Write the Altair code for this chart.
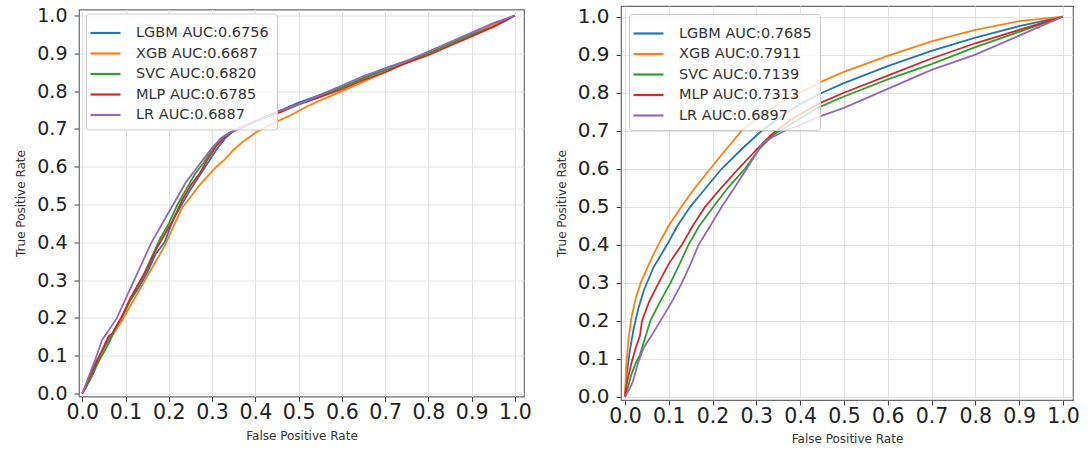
import altair as alt
import pandas as pd

MODELS = ["LGBM", "XGB", "SVC", "MLP", "LR"]
COLORS = ["#1f77b4", "#ff7f0e", "#2ca02c", "#d62728", "#9467bd"]
TICKS = [0.0, 0.1, 0.2, 0.3, 0.4, 0.5, 0.6, 0.7, 0.8, 0.9, 1.0]

# ---------------- left panel ----------------
LEFT_AUC = ["0.6756", "0.6687", "0.6820", "0.6785", "0.6887"]

left_lgbm_x = [0, 0.01, 0.02, 0.03, 0.05, 0.07, 0.09, 0.11, 0.13, 0.15, 0.17, 0.19, 0.21, 0.23, 0.25, 0.27, 0.29, 0.31, 0.33, 0.35, 0.38, 0.42, 0.46, 0.5, 0.55, 0.6, 0.65, 0.7, 0.75, 0.8, 0.85, 0.9, 0.95, 1.0]
left_lgbm_y = [0, 0.02, 0.05, 0.08, 0.12, 0.16, 0.2, 0.245, 0.28, 0.32, 0.37, 0.4, 0.46, 0.5, 0.54, 0.575, 0.61, 0.645, 0.675, 0.695, 0.71, 0.73, 0.75, 0.77, 0.79, 0.81, 0.835, 0.86, 0.88, 0.9, 0.925, 0.95, 0.975, 1.0]

left_xgb_x = [0, 0.01, 0.03, 0.05, 0.07, 0.09, 0.11, 0.13, 0.15, 0.17, 0.19, 0.21, 0.23, 0.25, 0.27, 0.29, 0.31, 0.33, 0.35, 0.37, 0.4, 0.44, 0.48, 0.52, 0.56, 0.6, 0.65, 0.7, 0.75, 0.8, 0.85, 0.9, 0.95, 1.0]
left_xgb_y = [0, 0.025, 0.07, 0.11, 0.155, 0.19, 0.23, 0.27, 0.31, 0.35, 0.39, 0.44, 0.49, 0.52, 0.55, 0.575, 0.6, 0.62, 0.645, 0.665, 0.69, 0.715, 0.735, 0.76, 0.78, 0.8, 0.825, 0.85, 0.875, 0.9, 0.925, 0.95, 0.975, 1.0]

left_svc_x = [0, 0.02, 0.04, 0.06, 0.08, 0.1, 0.12, 0.14, 0.16, 0.18, 0.2, 0.22, 0.24, 0.26, 0.28, 0.3, 0.32, 0.34, 0.37, 0.4, 0.45, 0.5, 0.55, 0.6, 0.65, 0.7, 0.75, 0.8, 0.85, 0.9, 0.95, 1.0]
left_svc_y = [0, 0.04, 0.09, 0.13, 0.18, 0.22, 0.27, 0.31, 0.36, 0.41, 0.45, 0.5, 0.54, 0.58, 0.61, 0.645, 0.675, 0.69, 0.705, 0.72, 0.745, 0.765, 0.785, 0.81, 0.835, 0.855, 0.875, 0.9, 0.925, 0.95, 0.97, 1.0]

left_mlp_x = [0, 0.02, 0.04, 0.06, 0.07, 0.09, 0.11, 0.13, 0.15, 0.17, 0.19, 0.21, 0.23, 0.25, 0.27, 0.29, 0.31, 0.33, 0.35, 0.38, 0.42, 0.46, 0.5, 0.55, 0.6, 0.65, 0.7, 0.75, 0.8, 0.85, 0.9, 0.95, 1.0]
left_mlp_y = [0, 0.05, 0.1, 0.15, 0.16, 0.2, 0.25, 0.29, 0.33, 0.38, 0.42, 0.46, 0.51, 0.55, 0.58, 0.62, 0.655, 0.68, 0.695, 0.71, 0.73, 0.745, 0.765, 0.785, 0.805, 0.83, 0.85, 0.875, 0.895, 0.92, 0.945, 0.97, 1.0]

left_lr_x = [0, 0.01, 0.03, 0.045, 0.06, 0.08, 0.1, 0.12, 0.14, 0.16, 0.18, 0.2, 0.22, 0.24, 0.26, 0.28, 0.3, 0.32, 0.34, 0.37, 0.4, 0.45, 0.5, 0.55, 0.6, 0.65, 0.7, 0.75, 0.8, 0.85, 0.9, 0.95, 1.0]
left_lr_y = [0, 0.03, 0.09, 0.14, 0.165, 0.2, 0.25, 0.3, 0.35, 0.4, 0.44, 0.48, 0.52, 0.56, 0.59, 0.62, 0.65, 0.675, 0.69, 0.705, 0.72, 0.745, 0.765, 0.79, 0.815, 0.84, 0.86, 0.88, 0.905, 0.93, 0.955, 0.98, 1.0]

# ---------------- right panel ----------------
RIGHT_AUC = ["0.7685", "0.7911", "0.7139", "0.7313", "0.6897"]

right_lgbm_x = [0, 0.004, 0.011, 0.02, 0.03, 0.043, 0.065, 0.096, 0.12, 0.149, 0.185, 0.221, 0.265, 0.312, 0.36, 0.4, 0.45, 0.5, 0.6, 0.7, 0.8, 0.9, 1.0]
right_lgbm_y = [0, 0.06, 0.12, 0.18, 0.23, 0.28, 0.34, 0.4, 0.45, 0.5, 0.55, 0.6, 0.65, 0.7, 0.74, 0.77, 0.8, 0.825, 0.87, 0.91, 0.945, 0.975, 1.0]

right_xgb_x = [0, 0.003, 0.008, 0.015, 0.025, 0.036, 0.055, 0.076, 0.1, 0.129, 0.16, 0.195, 0.23, 0.267, 0.31, 0.35, 0.4, 0.45, 0.5, 0.6, 0.7, 0.8, 0.9, 1.0]
right_xgb_y = [0, 0.08, 0.15, 0.21, 0.26, 0.3, 0.35, 0.4, 0.45, 0.5, 0.55, 0.6, 0.65, 0.7, 0.74, 0.77, 0.8, 0.83, 0.855, 0.897, 0.935, 0.965, 0.988, 1.0]

right_svc_x = [0, 0.008, 0.015, 0.025, 0.034, 0.058, 0.08, 0.104, 0.125, 0.145, 0.17, 0.202, 0.235, 0.274, 0.305, 0.34, 0.39, 0.44, 0.5, 0.6, 0.7, 0.8, 0.9, 1.0]
right_svc_y = [0, 0.03, 0.06, 0.09, 0.11, 0.2, 0.25, 0.3, 0.35, 0.4, 0.45, 0.5, 0.55, 0.6, 0.65, 0.69, 0.725, 0.76, 0.79, 0.835, 0.875, 0.92, 0.96, 1.0]

right_mlp_x = [0, 0.005, 0.015, 0.025, 0.034, 0.039, 0.055, 0.077, 0.1, 0.13, 0.155, 0.183, 0.22, 0.259, 0.3, 0.335, 0.38, 0.44, 0.5, 0.6, 0.7, 0.8, 0.9, 1.0]
right_mlp_y = [0, 0.04, 0.09, 0.13, 0.16, 0.2, 0.25, 0.3, 0.35, 0.4, 0.45, 0.5, 0.55, 0.6, 0.65, 0.69, 0.73, 0.77, 0.8, 0.845, 0.89, 0.93, 0.965, 1.0]

right_lr_x = [0, 0.01, 0.018, 0.03, 0.043, 0.06, 0.081, 0.107, 0.13, 0.15, 0.168, 0.195, 0.221, 0.25, 0.278, 0.3, 0.316, 0.34, 0.365, 0.4, 0.45, 0.5, 0.6, 0.7, 0.8, 0.9, 1.0]
right_lr_y = [0, 0.02, 0.04, 0.09, 0.13, 0.16, 0.2, 0.25, 0.3, 0.35, 0.4, 0.45, 0.5, 0.55, 0.6, 0.64, 0.67, 0.685, 0.7, 0.715, 0.74, 0.76, 0.81, 0.86, 0.9, 0.95, 1.0]

FONT = "DejaVu Sans"


def build_df(aucs, curves):
    rows = []
    labels = []
    for m, auc, (xs, ys) in zip(MODELS, aucs, curves):
        lab = f"{m} AUC:{auc}"
        labels.append(lab)
        for i, (x, y) in enumerate(zip(xs, ys)):
            rows.append({"label": lab, "fpr": x, "tpr": y, "idx": i})
    return pd.DataFrame(rows), labels


def panel(df, labels, xdom, ydom, w, h, lx, ly, ylabel_size):
    return alt.Chart(df).mark_line(strokeWidth=1.8, clip=True).encode(
        x=alt.X("fpr:Q",
                scale=alt.Scale(domain=xdom, nice=False, zero=False),
                axis=alt.Axis(values=TICKS, format=".1f", title="False Positive Rate",
                              labelFontSize=20.5, labelPadding=1, titlePadding=7,
                              labelFlush=False, labelOverlap=False)),
        y=alt.Y("tpr:Q",
                scale=alt.Scale(domain=ydom, nice=False, zero=False),
                axis=alt.Axis(values=TICKS, format=".1f", title="True Positive Rate",
                              labelFontSize=ylabel_size, labelPadding=7, titlePadding=9,
                              labelFlush=False, labelOverlap=False)),
        color=alt.Color("label:N",
                        scale=alt.Scale(domain=labels, range=COLORS),
                        sort=labels,
                        legend=alt.Legend(title=None, orient="none", legendX=lx, legendY=ly)),
        order=alt.Order("idx:Q"),
    ).properties(width=w, height=h)


ldf, llabels = build_df(LEFT_AUC, [
    (left_lgbm_x, left_lgbm_y), (left_xgb_x, left_xgb_y), (left_svc_x, left_svc_y),
    (left_mlp_x, left_mlp_y), (left_lr_x, left_lr_y)])
rdf, rlabels = build_df(RIGHT_AUC, [
    (right_lgbm_x, right_lgbm_y), (right_xgb_x, right_xgb_y), (right_svc_x, right_svc_y),
    (right_mlp_x, right_mlp_y), (right_lr_x, right_lr_y)])

left = panel(ldf, llabels, [-0.0077, 1.021], [-0.008, 1.016], 445, 387, 7, 4, 19)
right = panel(rdf, rlabels, [-0.009, 1.023], [-0.008, 1.028], 452, 394, 8, 8, 20)

chart = alt.hconcat(left, right, spacing=97, bounds="flush", center=True).resolve_scale(
    color="independent").resolve_legend(color="independent").properties(
    padding={"left": 14, "top": 5, "right": 5, "bottom": 5}
).configure(font=FONT).configure_view(
    stroke="#6b6b6b", strokeWidth=1.2
).configure_axis(
    domain=False, grid=True, gridColor="#e2e2e2", gridWidth=1,
    tickColor="#444", tickSize=5, tickWidth=1,
    labelColor="#222", labelFont=FONT,
    titleColor="#333", titleFont=FONT, titleFontSize=12, titleFontWeight="normal",
).configure_legend(
    symbolType="M-1.5,0H1.5", symbolSize=400, symbolStrokeWidth=2.2,
    symbolFillColor="transparent",
    labelFontSize=14.5, labelColor="#333", labelFont=FONT, labelOffset=19,
    rowPadding=2.5, padding=8, strokeColor="#cccccc", fillColor="rgba(255,255,255,0.8)",
    cornerRadius=3,
)

chart.save("out.html", embed_options={"renderer": "svg", "actions": False})
